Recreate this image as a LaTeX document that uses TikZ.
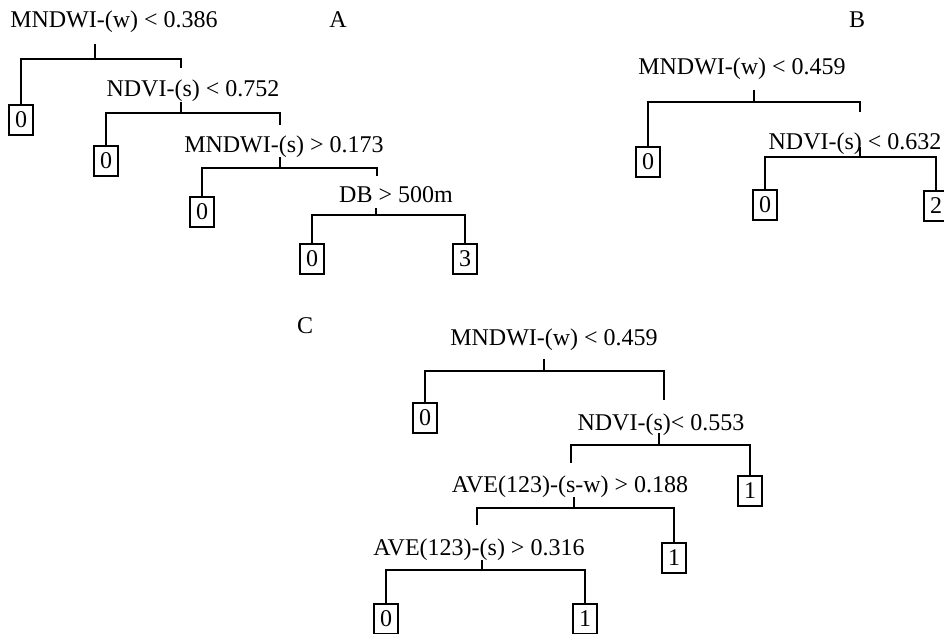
\documentclass[tikz,border=0pt]{standalone}
\usepackage{fontspec}
\setmainfont{Liberation Serif}
\usepackage{tikz}

\begin{document}
\begin{tikzpicture}[x=0.75pt, y=-0.75pt, line width=1.5pt,
   every node/.style={font=\fontsize{18}{21}\selectfont},
   split/.style={anchor=base, inner sep=0pt},
   leaf/.style={rectangle, draw, minimum width=18pt, minimum height=23pt, inner sep=0pt}]
   \useasboundingbox (0,0) rectangle (944,634);
   \clip (0,0) rectangle (944,634);

   % tree A
   \node [split] (titleA) at (338,28) {A};
   \node [split] (splitA1) at (114,28) {MNDWI-(w) < 0.386};
   \node [split] (splitA2) at (193,97) {NDVI-(s) < 0.752};
   \node [split] (splitA3) at (284,153) {MNDWI-(s) > 0.173};
   \node [split] (splitA4) at (396,203) {DB > 500m};
   \node [leaf] (leafA1) at (21,120) {0};
   \node [leaf] (leafA2) at (106,161) {0};
   \node [leaf] (leafA3) at (202,212) {0};
   \node [leaf] (leafA4) at (312,259) {0};
   \node [leaf] (leafA5) at (465,259) {3};
   \coordinate (topA1) at (95,44);   \coordinate (barA1) at (95,59);   \coordinate (endA1) at (181,68);
   \coordinate (topA2) at (181,102); \coordinate (barA2) at (181,113); \coordinate (endA2) at (280,125);
   \coordinate (topA3) at (280,157); \coordinate (barA3) at (280,168); \coordinate (endA3) at (377,176);
   \coordinate (topA4) at (376,208); \coordinate (barA4) at (376,215);

   \draw (topA1) -- (barA1);
   \draw (leafA1.north) |- (barA1) -| (endA1);
   \draw (topA2) -- (barA2);
   \draw (leafA2.north) |- (barA2) -| (endA2);
   \draw (topA3) -- (barA3);
   \draw (leafA3.north) |- (barA3) -| (endA3);
   \draw (topA4) -- (barA4);
   \draw (leafA4.north) |- (barA4) -| (leafA5.north);

   % tree B
   \node [split] (titleB) at (857,28) {B};
   \node [split] (splitB1) at (742,75) {MNDWI-(w) < 0.459};
   \node [split] (splitB2) at (855,150) {NDVI-(s) < 0.632};
   \node [leaf] (leafB1) at (648,162) {0};
   \node [leaf] (leafB2) at (765,205) {0};
   \node [leaf] (leafB3) at (936,206) {2};
   \coordinate (topB1) at (754,90);  \coordinate (barB1) at (754,102); \coordinate (endB1) at (860,112);
   \coordinate (topB2) at (860,147); \coordinate (barB2) at (860,157);

   \draw (topB1) -- (barB1);
   \draw (leafB1.north) |- (barB1) -| (endB1);
   \draw (topB2) -- (barB2);
   \draw (leafB2.north) |- (barB2) -| (leafB3.north);

   % tree C
   \node [split] (titleC) at (305,333) {C};
   \node [split] (splitC1) at (554,345) {MNDWI-(w) < 0.459};
   \node [split] (splitC2) at (661,430) {NDVI-(s)< 0.553};
   \node [split] (splitC3) at (570,492) {AVE(123)-(s-w) > 0.188};
   \node [split] (splitC4) at (479,555) {AVE(123)-(s) > 0.316};
   \node [leaf] (leafC1) at (425,418) {0};
   \node [leaf] (leafC2) at (750,491) {1};
   \node [leaf] (leafC3) at (674,558) {1};
   \node [leaf] (leafC4) at (386,619) {0};
   \node [leaf] (leafC5) at (585,619) {1};
   \coordinate (topC1) at (544,359); \coordinate (barC1) at (544,371); \coordinate (endC1) at (664,400);
   \coordinate (topC2) at (659,433); \coordinate (barC2) at (659,445); \coordinate (endC2) at (571,463);
   \coordinate (topC3) at (574,497); \coordinate (barC3) at (574,508); \coordinate (endC3) at (477,525);
   \coordinate (topC4) at (482,560); \coordinate (barC4) at (482,570);

   \draw (topC1) -- (barC1);
   \draw (leafC1.north) |- (barC1) -| (endC1);
   \draw (topC2) -- (barC2);
   \draw (endC2) |- (barC2) -| (leafC2.north);
   \draw (topC3) -- (barC3);
   \draw (endC3) |- (barC3) -| (leafC3.north);
   \draw (topC4) -- (barC4);
   \draw (leafC4.north) |- (barC4) -| (leafC5.north);
\end{tikzpicture}
\end{document}
